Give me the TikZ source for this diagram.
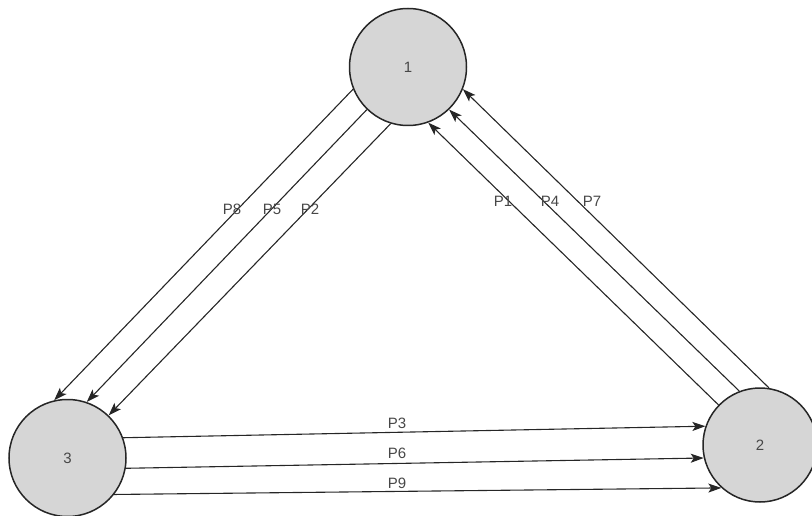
\documentclass[tikz,border=0pt]{standalone}
\usepackage{fontspec}
\setmainfont{Liberation Sans}
\usetikzlibrary{arrows.meta}
\definecolor{nodefill}{HTML}{D6D6D6}
\definecolor{ink}{HTML}{262626}
\tikzset{
  proc/.style={circle, draw=ink, line width=1.5pt, fill=nodefill, inner sep=0pt, font=\fontsize{15}{17}\selectfont, text=ink!85},
  msg/.style={draw=ink, line width=1.1pt, -{Stealth[length=13pt,width=9pt,inset=3pt]}},
  lbl/.style={font=\fontsize{15}{17}\selectfont, text=ink!85, inner sep=1pt}
}
\begin{document}
\begin{tikzpicture}[x=1pt,y=-1pt]
\useasboundingbox (0,0) rectangle (812,516);
\node[proc, minimum size=117pt] (n1) at (408,67) {1};
\node[proc, minimum size=117pt] (n3) at (67.5,458) {3};
\node[proc, minimum size=114pt] (n2) at (760,445) {2};
% 1 -> 3
\draw[msg] (n1.202) -- (n3.103);
\draw[msg] (n1.226) -- (n3.71);
\draw[msg] (n1.253) -- (n3.46);
% 2 -> 1
\draw[msg] (n2.136) -- (n1.290);
\draw[msg] (n2.111) -- (n1.314);
\draw[msg] (n2.81) -- (n1.338);
% 3 -> 2
\draw[msg] (n3.20) -- (n2.161);
\draw[msg] (n3.-10) -- (n2.193);
\draw[msg] (n3.-38) -- (n2.228);
% labels
\node[lbl] (l8) at (232,209) {P8};
\node[lbl] (l5) at (272,209) {P5};
\node[lbl] (l2) at (310,209) {P2};
\node[lbl] (l1) at (503,201) {P1};
\node[lbl] (l4) at (550,201) {P4};
\node[lbl] (l7) at (592,201) {P7};
\node[lbl] (l3) at (397,423) {P3};
\node[lbl] (l6) at (397,453) {P6};
\node[lbl] (l9) at (397,483) {P9};
\end{tikzpicture}
\end{document}
